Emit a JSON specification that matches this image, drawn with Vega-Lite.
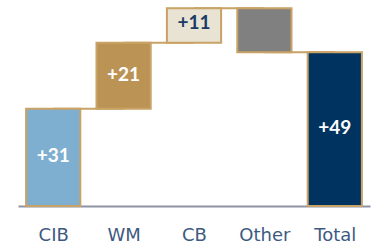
{
  "$schema": "https://vega.github.io/schema/vega-lite/v6.json",
  "width": 352,
  "height": 206,
  "padding": {"left": 18, "top": 0, "right": 5, "bottom": 0},
  "background": "white",
  "view": {"stroke": null},
  "data": {"values": [
    {"cat": "CIB", "i": 0, "start": 0, "end": 31, "label": "+31", "dark": false},
    {"cat": "WM", "i": 1, "start": 31, "end": 52, "label": "+21", "dark": false},
    {"cat": "CB", "i": 2, "start": 52, "end": 63, "label": "+11", "dark": true},
    {"cat": "Other", "i": 3, "start": 63, "end": 49, "label": "", "dark": false},
    {"cat": "Total", "i": 4, "start": 0, "end": 49, "label": "+49", "dark": false}
  ]},
  "transform": [
    {"calculate": "datum.i - 0.385", "as": "x0"},
    {"calculate": "datum.i + 0.385", "as": "x1"},
    {"calculate": "datum.i + 1", "as": "inext"},
    {"calculate": "(datum.start + datum.end) / 2", "as": "mid"}
  ],
  "layer": [
    {
      "transform": [{"filter": "datum.i < 4"}],
      "mark": {"type": "rule", "color": "#c9a265", "strokeWidth": 2},
      "encoding": {
        "x": {"field": "i", "type": "quantitative", "scale": {"domain": [-0.5, 4.5], "nice": false, "zero": false},
          "axis": {"title": null, "values": [0, 1, 2, 3, 4], "labelExpr": "['CIB','WM','CB','Other','Total'][datum.value]", "ticks": false, "grid": false, "labelAngle": 0, "labelFont": "DejaVu Sans", "labelFontSize": 18, "labelColor": "#3d5a80", "labelPadding": 20, "domainColor": "#8e94a6", "domainWidth": 2, "labelFlush": false, "labelOverlap": false}},
        "x2": {"field": "inext"},
        "y": {"field": "end", "type": "quantitative", "scale": {"domain": [0, 65.6], "nice": false}, "axis": null}
      }
    },
    {
      "mark": {"type": "bar", "stroke": "#c9a265", "strokeWidth": 2},
      "encoding": {
        "x": {"field": "x0", "type": "quantitative", "scale": {"domain": [-0.5, 4.5], "nice": false, "zero": false},
          "axis": {"title": null, "values": [0, 1, 2, 3, 4], "labelExpr": "['CIB','WM','CB','Other','Total'][datum.value]", "ticks": false, "grid": false, "labelAngle": 0, "labelFont": "DejaVu Sans", "labelFontSize": 18, "labelColor": "#3d5a80", "labelPadding": 20, "domainColor": "#8e94a6", "domainWidth": 2, "labelFlush": false, "labelOverlap": false}},
        "x2": {"field": "x1"},
        "y": {"field": "start", "type": "quantitative", "scale": {"domain": [0, 65.6], "nice": false}, "axis": null},
        "y2": {"field": "end"},
        "fill": {"field": "cat", "type": "nominal", "legend": null,
          "scale": {"domain": ["CIB", "WM", "CB", "Other", "Total"], "range": ["#7fafd0", "#bb9455", "#e8e3d2", "#808080", "#00335f"]}}
      }
    },
    {
      "transform": [{"filter": "!datum.dark"}],
      "mark": {"type": "text", "font": "Lato", "fontWeight": "bold", "fontSize": 19, "baseline": "middle", "dy": -1, "color": "white"},
      "encoding": {
        "x": {"field": "i", "type": "quantitative", "scale": {"domain": [-0.5, 4.5], "nice": false, "zero": false},
          "axis": {"title": null, "values": [0, 1, 2, 3, 4], "labelExpr": "['CIB','WM','CB','Other','Total'][datum.value]", "ticks": false, "grid": false, "labelAngle": 0, "labelFont": "DejaVu Sans", "labelFontSize": 18, "labelColor": "#3d5a80", "labelPadding": 20, "domainColor": "#8e94a6", "domainWidth": 2, "labelFlush": false, "labelOverlap": false}},
        "y": {"field": "mid", "type": "quantitative", "scale": {"domain": [0, 65.6], "nice": false}, "axis": null},
        "text": {"field": "label"}
      }
    },
    {
      "transform": [{"filter": "datum.dark"}],
      "mark": {"type": "text", "font": "Lato", "fontWeight": "bold", "fontSize": 19, "baseline": "middle", "dy": -2, "color": "#1b3a66"},
      "encoding": {
        "x": {"field": "i", "type": "quantitative", "scale": {"domain": [-0.5, 4.5], "nice": false, "zero": false},
          "axis": {"title": null, "values": [0, 1, 2, 3, 4], "labelExpr": "['CIB','WM','CB','Other','Total'][datum.value]", "ticks": false, "grid": false, "labelAngle": 0, "labelFont": "DejaVu Sans", "labelFontSize": 18, "labelColor": "#3d5a80", "labelPadding": 20, "domainColor": "#8e94a6", "domainWidth": 2, "labelFlush": false, "labelOverlap": false}},
        "y": {"field": "mid", "type": "quantitative", "scale": {"domain": [0, 65.6], "nice": false}, "axis": null},
        "text": {"field": "label"}
      }
    }
  ]
}
